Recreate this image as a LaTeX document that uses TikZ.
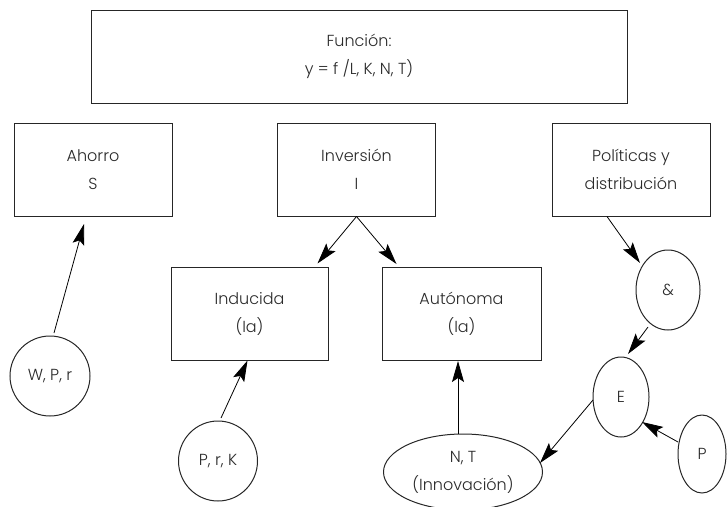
\documentclass[tikz,border=0pt]{standalone}
\usepackage{fontspec}
\setmainfont{Poppins}[UprightFont=* Light]
\usetikzlibrary{arrows.meta,shapes.geometric}
\definecolor{txt}{HTML}{2A2A2A}
\tikzset{
  box/.style={draw=black!85, line width=1pt, rectangle, minimum width=158pt, minimum height=93pt, align=center, text=txt, font=\fontsize{16}{28}\selectfont, inner sep=0pt},
  oval/.style={draw=black!85, line width=1pt, ellipse, inner sep=0pt, align=center, text=txt, font=\fontsize{16}{28}\selectfont},
  arr/.style={draw=black, line width=0.8pt, -{Stealth[length=21pt,width=12pt,inset=4pt]}},
}
\begin{document}
\begin{tikzpicture}[x=1pt,y=-1pt]
\useasboundingbox (0,0) rectangle (727,506);
\node[box, minimum width=536pt, minimum height=93pt] (fun) at (359,56.5) {Función:\\y = f /L, K, N, T)};
\node[box] (aho) at (93,170) {Ahorro\\S};
\node[box] (inv) at (356.5,169.5) {Inversión\\I};
\node[box] (pol) at (631,169.5) {Políticas y\\distribución};
\node[box, minimum width=157pt] (ind) at (249.5,313.5) {Inducida\\(Ia)};
\node[box, minimum width=159pt] (aut) at (461.5,314) {Autónoma\\(Ia)};
\node[oval, minimum width=80pt, minimum height=80pt] (wpr) at (50,376) {W, P, r};
\node[oval, minimum width=79pt, minimum height=80pt] (prk) at (218,461) {P, r, K};
\node[oval, minimum width=159pt, minimum height=76pt] (nt) at (463,472) {N, T\\(Innovación)};
\node[oval, minimum width=64pt, minimum height=80pt] (amp) at (668,290) {\&};
\node[oval, minimum width=56pt, minimum height=80pt] (e) at (621,397) {E};
\node[oval, minimum width=48pt, minimum height=78pt] (p) at (702,454) {P};
\draw[arr] (inv.south) -- ([xshift=-11pt,yshift=3pt]ind.north east);
\draw[arr] (inv.south) -- ([xshift=15pt,yshift=3pt]aut.north west);
\draw[arr] ([xshift=4pt,yshift=43pt]wpr.center) -- ([xshift=-9pt,yshift=-7pt]aho.south);
\draw[arr] ([xshift=3pt,yshift=43pt]prk.center) -- ([xshift=-2pt]ind.south);
\draw[arr] ([xshift=-5pt]nt.north) -- ([xshift=-3.5pt]aut.south);
\draw[arr] ([xshift=-24pt]pol.south) -- ([xshift=-28pt,yshift=27pt]amp.center);
\draw[arr] ([xshift=-20pt,yshift=-37pt]amp.center) -- ([xshift=7pt,yshift=43pt]e.center);
\draw[arr] ([xshift=-24pt,yshift=12pt]p.center) -- ([xshift=21pt,yshift=-25pt]e.center);
\draw[arr] ([xshift=-28pt,yshift=-3pt]e.center) -- ([xshift=77pt,yshift=9pt]nt.center);
\end{tikzpicture}
\end{document}
